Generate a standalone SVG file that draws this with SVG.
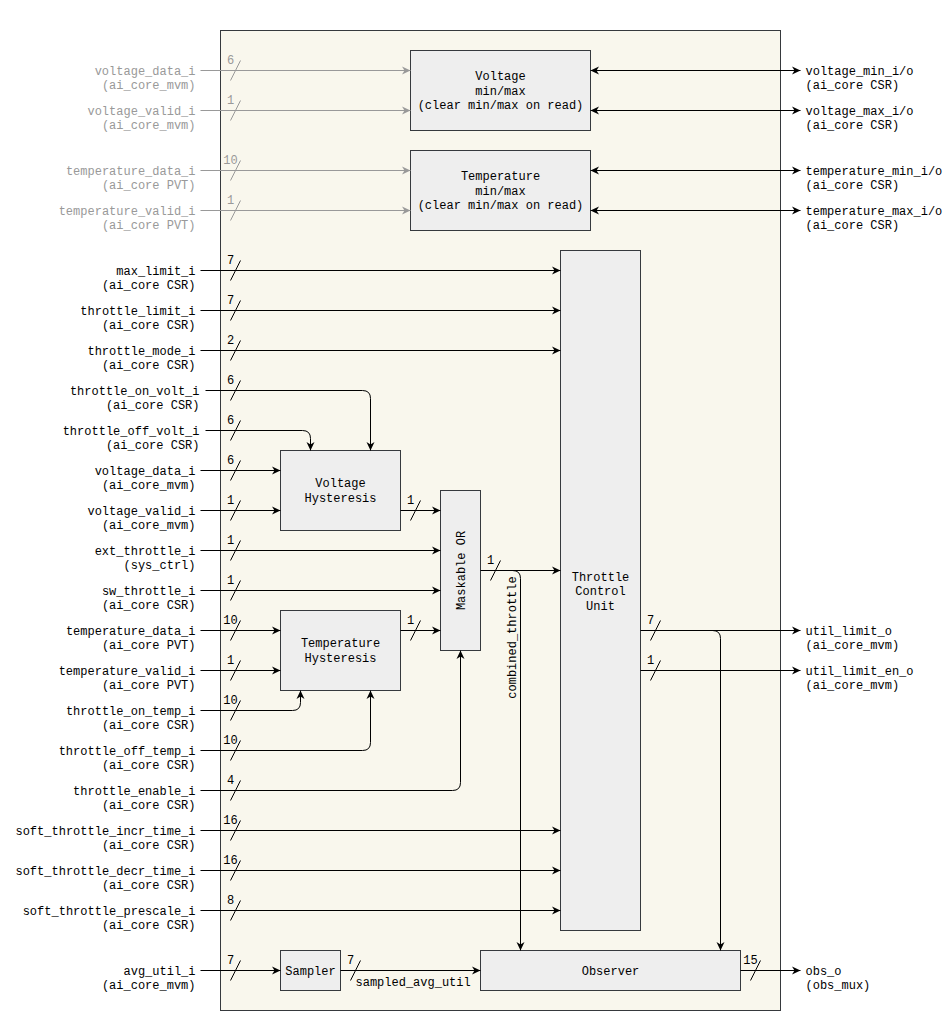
<svg xmlns="http://www.w3.org/2000/svg" width="944" height="1031" viewBox="0 0 944 1031">
  <style>
    text { font-family: "Liberation Mono", "Courier New", monospace; font-size: 12px; fill: #000; }
    .g { fill: #999999; }
    .lbl { text-anchor: end; }
    .out { text-anchor: start; }
    .mid { text-anchor: middle; }
    .box { fill: #eeeeee; stroke: #36393d; stroke-width: 1; }
    .frame { fill: #f9f7ed; stroke: #36393d; stroke-width: 1; }
    .w { fill: none; stroke: #000; stroke-width: 1; }
    .wg { fill: none; stroke: #999999; stroke-width: 1; }
    .arr { marker-end: url(#ah); }
    .arrg { marker-end: url(#ahg); }
    .bi { marker-start: url(#ah); marker-end: url(#ah); }
  </style>
  <defs>
    <marker id="ah" viewBox="0 0 10 10" refX="10" refY="5" markerWidth="10" markerHeight="10" markerUnits="userSpaceOnUse" orient="auto-start-reverse">
      <path d="M10,5 L1.5,1 L4,5 L1.5,9 Z" fill="#000"/>
    </marker>
    <marker id="ahg" viewBox="0 0 10 10" refX="10" refY="5" markerWidth="10" markerHeight="10" markerUnits="userSpaceOnUse" orient="auto">
      <path d="M10,5 L1.5,1 L4,5 L1.5,9 Z" fill="#999999"/>
    </marker>
  </defs>
  <rect width="944" height="1031" fill="#ffffff"/>
  <g transform="translate(0.5,0.5)">
    <g id="block-frame">
      <rect class="frame" x="220" y="30" width="560" height="980"/>
    </g>

    <g id="voltage-minmax">
      <rect class="box" x="410" y="50" width="180" height="80"/>
      <text class="mid" x="500" y="79.5">Voltage</text>
      <text class="mid" x="500" y="94">min/max</text>
      <text class="mid" x="500" y="108.5">(clear min/max on read)</text>
    </g>
    <g id="temperature-minmax">
      <rect class="box" x="410" y="150" width="180" height="80"/>
      <text class="mid" x="500" y="179.5">Temperature</text>
      <text class="mid" x="500" y="194">min/max</text>
      <text class="mid" x="500" y="208.5">(clear min/max on read)</text>
    </g>
    <g id="throttle-control-unit">
      <rect class="box" x="560" y="250" width="80" height="680"/>
      <text class="mid" x="600" y="580">Throttle</text>
      <text class="mid" x="600" y="594">Control</text>
      <text class="mid" x="600" y="609">Unit</text>
    </g>
    <g id="voltage-hysteresis">
      <rect class="box" x="280" y="450" width="120" height="80"/>
      <text class="mid" x="340" y="486">Voltage</text>
      <text class="mid" x="340" y="501">Hysteresis</text>
    </g>
    <g id="maskable-or">
      <rect class="box" x="440" y="490" width="40" height="160"/>
      <text class="mid" transform="translate(464,570) rotate(-90)" x="0" y="0">Maskable OR</text>
    </g>
    <g id="temperature-hysteresis">
      <rect class="box" x="280" y="610" width="120" height="80"/>
      <text class="mid" x="340" y="646">Temperature</text>
      <text class="mid" x="340" y="661">Hysteresis</text>
    </g>
    <g id="sampler">
      <rect class="box" x="280" y="950" width="60" height="40"/>
      <text class="mid" x="310" y="974">Sampler</text>
    </g>
    <g id="observer">
      <rect class="box" x="480" y="950" width="260" height="40"/>
      <text class="mid" x="610" y="974">Observer</text>
    </g>

    <g id="connectors">
      <!-- min/max monitor inputs (grey) -->
      <path class="wg arrg" d="M200,70 H410"/>
      <path class="wg arrg" d="M200,110 H410"/>
      <path class="wg arrg" d="M200,170 H410"/>
      <path class="wg arrg" d="M200,210 H410"/>
      <!-- min/max CSR ports -->
      <path class="w bi" d="M590,70 H800"/>
      <path class="w bi" d="M590,110 H800"/>
      <path class="w bi" d="M590,170 H800"/>
      <path class="w bi" d="M590,210 H800"/>
      <!-- throttle control unit configuration -->
      <path class="w arr" d="M200,270 H560"/>
      <path class="w arr" d="M200,310 H560"/>
      <path class="w arr" d="M200,350 H560"/>
      <!-- voltage hysteresis thresholds and inputs -->
      <path class="w arr" d="M205,390 H362 Q370,390 370,398 V450"/>
      <path class="w arr" d="M205,430 H302 Q310,430 310,438 V450"/>
      <path class="w arr" d="M200,470 H280"/>
      <path class="w arr" d="M200,510 H280"/>
      <path class="w arr" d="M400,510 H440"/>
      <!-- direct throttle requests -->
      <path class="w arr" d="M200,550 H440"/>
      <path class="w arr" d="M200,590 H440"/>
      <!-- temperature hysteresis -->
      <path class="w arr" d="M200,630 H280"/>
      <path class="w arr" d="M200,670 H280"/>
      <path class="w arr" d="M400,630 H440"/>
      <path class="w arr" d="M200,710 H292 Q300,710 300,702 V690"/>
      <path class="w arr" d="M200,750 H362 Q370,750 370,742 V690"/>
      <!-- OR mask -->
      <path class="w arr" d="M200,790 H452 Q460,790 460,782 V650"/>
      <!-- soft throttle timing -->
      <path class="w arr" d="M200,830 H560"/>
      <path class="w arr" d="M200,870 H560"/>
      <path class="w arr" d="M200,910 H560"/>
      <!-- combined throttle -->
      <path class="w arr" d="M480,570 H560"/>
      <path class="w arr" d="M500,570 H512 Q520,570 520,578 V950"/>
      <text class="mid" transform="translate(511,637) rotate(-90)" x="0" y="4">combined_throttle</text>
      <!-- outputs -->
      <path class="w arr" d="M640,630 H800"/>
      <path class="w arr" d="M640,670 H800"/>
      <path class="w arr" d="M700,630 H712 Q720,630 720,638 V950"/>
      <!-- utilisation sampling -->
      <path class="w arr" d="M200,970 H280"/>
      <path class="w arr" d="M340,970 H480"/>
      <text x="355" y="985">sampled_avg_util</text>
      <path class="w arr" d="M740,970 H800"/>

      <!-- bus width marks -->
      <g class="wg">
        <path d="M230,80 L240,60"/>
        <path d="M230,120 L240,100"/>
        <path d="M230,180 L240,160"/>
        <path d="M230,220 L240,200"/>
      </g>
      <text class="mid g" x="230" y="63">6</text>
      <text class="mid g" x="230" y="103">1</text>
      <text class="mid g" x="230" y="163">10</text>
      <text class="mid g" x="230" y="203">1</text>
      <g class="w">
        <path d="M230,280 L240,260"/>
        <path d="M230,320 L240,300"/>
        <path d="M230,360 L240,340"/>
        <path d="M230,400 L240,380"/>
        <path d="M230,440 L240,420"/>
        <path d="M230,480 L240,460"/>
        <path d="M230,520 L240,500"/>
        <path d="M230,560 L240,540"/>
        <path d="M230,600 L240,580"/>
        <path d="M230,640 L240,620"/>
        <path d="M230,680 L240,660"/>
        <path d="M230,720 L240,700"/>
        <path d="M230,760 L240,740"/>
        <path d="M230,800 L240,780"/>
        <path d="M230,840 L240,820"/>
        <path d="M230,880 L240,860"/>
        <path d="M230,920 L240,900"/>
        <path d="M230,980 L240,960"/>
        <path d="M410,520 L420,500"/>
        <path d="M410,640 L420,620"/>
        <path d="M490,580 L500,560"/>
        <path d="M650,640 L660,620"/>
        <path d="M650,680 L660,660"/>
        <path d="M350,980 L360,960"/>
        <path d="M750,980 L760,960"/>
      </g>
      <text class="mid" x="230" y="263">7</text>
      <text class="mid" x="230" y="303">7</text>
      <text class="mid" x="230" y="343">2</text>
      <text class="mid" x="230" y="383">6</text>
      <text class="mid" x="230" y="423">6</text>
      <text class="mid" x="230" y="463">6</text>
      <text class="mid" x="230" y="503">1</text>
      <text class="mid" x="230" y="543">1</text>
      <text class="mid" x="230" y="583">1</text>
      <text class="mid" x="230" y="623">10</text>
      <text class="mid" x="230" y="663">1</text>
      <text class="mid" x="230" y="703">10</text>
      <text class="mid" x="230" y="743">10</text>
      <text class="mid" x="230" y="783">4</text>
      <text class="mid" x="230" y="823">16</text>
      <text class="mid" x="230" y="863">16</text>
      <text class="mid" x="230" y="903">8</text>
      <text class="mid" x="230" y="963">7</text>
      <text class="mid" x="410" y="503">1</text>
      <text class="mid" x="410" y="623">1</text>
      <text class="mid" x="490" y="563">1</text>
      <text class="mid" x="650" y="623">7</text>
      <text class="mid" x="650" y="663">1</text>
      <text class="mid" x="350" y="963">7</text>
      <text class="mid" x="750" y="963">15</text>
    </g>

    <g id="input-ports">
      <text class="lbl g" x="195" y="74">voltage_data_i</text>
      <text class="lbl g" x="195" y="88">(ai_core_mvm)</text>
      <text class="lbl g" x="195" y="114">voltage_valid_i</text>
      <text class="lbl g" x="195" y="128">(ai_core_mvm)</text>
      <text class="lbl g" x="195" y="174">temperature_data_i</text>
      <text class="lbl g" x="195" y="188">(ai_core PVT)</text>
      <text class="lbl g" x="195" y="214">temperature_valid_i</text>
      <text class="lbl g" x="195" y="228">(ai_core PVT)</text>

      <text class="lbl" x="195" y="274">max_limit_i</text>
      <text class="lbl" x="195" y="288">(ai_core CSR)</text>
      <text class="lbl" x="195" y="314">throttle_limit_i</text>
      <text class="lbl" x="195" y="328">(ai_core CSR)</text>
      <text class="lbl" x="195" y="354">throttle_mode_i</text>
      <text class="lbl" x="195" y="368">(ai_core CSR)</text>
      <text class="lbl" x="199" y="394">throttle_on_volt_i</text>
      <text class="lbl" x="199" y="408">(ai_core CSR)</text>
      <text class="lbl" x="199" y="434">throttle_off_volt_i</text>
      <text class="lbl" x="199" y="448">(ai_core CSR)</text>
      <text class="lbl" x="195" y="474">voltage_data_i</text>
      <text class="lbl" x="195" y="488">(ai_core_mvm)</text>
      <text class="lbl" x="195" y="514">voltage_valid_i</text>
      <text class="lbl" x="195" y="528">(ai_core_mvm)</text>
      <text class="lbl" x="195" y="554">ext_throttle_i</text>
      <text class="lbl" x="195" y="568">(sys_ctrl)</text>
      <text class="lbl" x="195" y="594">sw_throttle_i</text>
      <text class="lbl" x="195" y="608">(ai_core CSR)</text>
      <text class="lbl" x="195" y="634">temperature_data_i</text>
      <text class="lbl" x="195" y="648">(ai_core PVT)</text>
      <text class="lbl" x="195" y="674">temperature_valid_i</text>
      <text class="lbl" x="195" y="688">(ai_core PVT)</text>
      <text class="lbl" x="195" y="714">throttle_on_temp_i</text>
      <text class="lbl" x="195" y="728">(ai_core CSR)</text>
      <text class="lbl" x="195" y="754">throttle_off_temp_i</text>
      <text class="lbl" x="195" y="768">(ai_core CSR)</text>
      <text class="lbl" x="195" y="794">throttle_enable_i</text>
      <text class="lbl" x="195" y="808">(ai_core CSR)</text>
      <text class="lbl" x="195" y="834">soft_throttle_incr_time_i</text>
      <text class="lbl" x="195" y="848">(ai_core CSR)</text>
      <text class="lbl" x="195" y="874">soft_throttle_decr_time_i</text>
      <text class="lbl" x="195" y="888">(ai_core CSR)</text>
      <text class="lbl" x="195" y="914">soft_throttle_prescale_i</text>
      <text class="lbl" x="195" y="928">(ai_core CSR)</text>
      <text class="lbl" x="195" y="974">avg_util_i</text>
      <text class="lbl" x="195" y="988">(ai_core_mvm)</text>
    </g>

    <g id="output-ports">
      <text class="out" x="805" y="74">voltage_min_i/o</text>
      <text class="out" x="805" y="88">(ai_core CSR)</text>
      <text class="out" x="805" y="114">voltage_max_i/o</text>
      <text class="out" x="805" y="128">(ai_core CSR)</text>
      <text class="out" x="805" y="174">temperature_min_i/o</text>
      <text class="out" x="805" y="188">(ai_core CSR)</text>
      <text class="out" x="805" y="214">temperature_max_i/o</text>
      <text class="out" x="805" y="228">(ai_core CSR)</text>
      <text class="out" x="805" y="634">util_limit_o</text>
      <text class="out" x="805" y="648">(ai_core_mvm)</text>
      <text class="out" x="805" y="674">util_limit_en_o</text>
      <text class="out" x="805" y="688">(ai_core_mvm)</text>
      <text class="out" x="805" y="974">obs_o</text>
      <text class="out" x="805" y="988">(obs_mux)</text>
    </g>
  </g>
</svg>
